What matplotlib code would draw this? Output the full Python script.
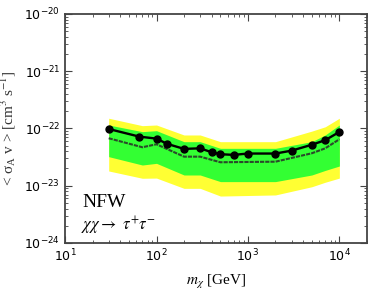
import matplotlib
matplotlib.use('Agg')
import matplotlib.pyplot as plt
import numpy as np

# limit points (black line)
mass = [30, 65, 100, 130, 200, 300, 400, 500, 700, 1000, 2000, 3000, 5000, 7000, 10000]
limit = [9.8e-23, 7.2e-23, 6.65e-23, 5.4e-23, 4.4e-23, 4.5e-23, 3.85e-23, 3.55e-23,
         3.46e-23, 3.65e-23, 3.65e-23, 4.1e-23, 5.2e-23, 6.25e-23, 8.7e-23]

# expected sensitivity bands
band_mass = [30, 70, 100, 200, 300, 500, 2000, 5000, 7000, 10000]
yellow_hi = [1.51e-22, 1.12e-22, 1.15e-22, 7.7e-23, 7.7e-23, 5.88e-23, 5.88e-23, 9.0e-23, 1.07e-22, 1.51e-22]
green_hi = [1.15e-22, 8.8e-23, 9.15e-23, 5.88e-23, 5.88e-23, 4.5e-23, 4.5e-23, 5.88e-23, 7.7e-23, 1.15e-22]
median = [6.75e-23, 4.7e-23, 5.3e-23, 3.22e-23, 3.22e-23, 2.57e-23, 2.63e-23, 3.69e-23, 4.5e-23, 6.48e-23]
green_lo = [3.22e-23, 2.3e-23, 2.46e-23, 1.54e-23, 1.54e-23, 1.18e-23, 1.18e-23, 1.54e-23, 1.85e-23, 2.21e-23]
yellow_lo = [1.81e-23, 1.35e-23, 1.36e-23, 9.0e-24, 9.0e-24, 6.6e-24, 6.9e-24, 9.6e-24, 1.15e-23, 1.36e-23]

fig = plt.figure(figsize=(3.74, 2.91), dpi=100)
ax = fig.add_axes([0.174, 0.165, 0.807, 0.787])

ax.fill_between(band_mass, yellow_lo, yellow_hi, color='#ffff33', lw=0)
ax.fill_between(band_mass, green_lo, green_hi, color='#33ff33', lw=0)
ax.plot(band_mass, median, color='#2a4a2a', lw=1.5, ls=(0, (2, 0.5)))
ax.plot(mass, limit, color='black', lw=1.7, marker='o', ms=5)

ax.set_xscale('log')
ax.set_yscale('log')
ax.set_xlim(10, 2e4)
ax.set_ylim(1e-24, 1e-20)

for s in ax.spines.values():
    s.set_color('#444444')
    s.set_linewidth(1.3)
ax.tick_params(which='both', direction='in', top=True, right=True, colors='#444444',
               labelcolor='black', labelsize=9)
ax.tick_params(which='major', length=5)
ax.tick_params(which='minor', length=2.5)

ax.set_xlabel(r'$m_\chi$ [GeV]', family='Liberation Serif', fontsize=11,
              math_fontfamily='stix')
ax.xaxis.set_label_coords(0.5, -0.13)
ax.set_ylabel(r'< $\mathregular{\sigma_A}$ v > [cm$^3$ s$^{-1}$]', family='Liberation Serif',
              fontsize=11, color='#333333', math_fontfamily='stix')
ax.yaxis.set_label_coords(-0.155, 0.5)

ax.text(15.3, 4.3e-24, 'NFW', family='Liberation Serif', fontsize=14)
ax.text(15, 1.65e-24, r'$\chi\chi \rightarrow\ \tau^{+}\tau^{-}$', fontsize=12,
        math_fontfamily='stix')

fig.savefig('out.png', dpi=100)
